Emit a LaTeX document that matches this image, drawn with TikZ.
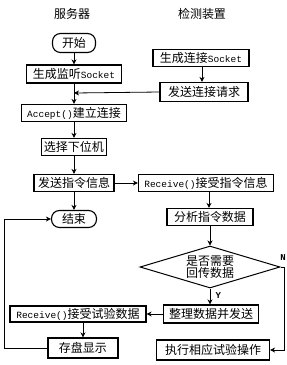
\documentclass[tikz,border=0pt]{standalone}
\usepackage{fontspec}
\setmainfont{Noto Sans CJK SC}
\setmonofont{Liberation Mono}
\usetikzlibrary{arrows.meta,shapes.geometric}
\newcommand{\lat}[1]{{\fontsize{9.5}{11}\ttfamily #1}}
\tikzset{
  box/.style={draw, line width=1.1pt, fill=white, inner sep=0pt, font=\fontsize{12}{14}\selectfont},
  term/.style={box, rounded corners=8pt},
  dec/.style={draw, line width=1pt, diamond, aspect=3.3, inner sep=0pt, minimum width=140pt, minimum height=42pt, align=center, font=\fontsize{12}{14}\selectfont},
  ttl/.style={font=\fontsize{12}{14}\selectfont},
  lbl/.style={font=\fontsize{9}{10}\ttfamily\bfseries},
  arr/.style={line width=0.8pt, -{Stealth[length=5pt,width=5pt,inset=1.5pt]}},
  ln/.style={line width=0.8pt}
}
\begin{document}
\begin{tikzpicture}[x=1pt,y=-1pt]
\useasboundingbox (0,0) rectangle (287,365);
% titles
\node[ttl] (t1) at (72,14) {服务器};
\node[ttl] (t2) at (202,14) {检测装置};
% left column
\node[term, minimum width=43pt, minimum height=19pt] (start) at (74,43) {开始};
\node[box, minimum width=95pt, minimum height=18pt] (s1) at (74,74) {生成监听\lat{Socket}};
\node[box, minimum width=105pt, minimum height=17pt] (acc) at (74,113) {\lat{Accept()}建立连接};
\node[box, minimum width=65pt, minimum height=17pt] (sel) at (74,147) {选择下位机};
\node[box, minimum width=80pt, minimum height=17pt] (snd) at (74,183) {发送指令信息};
\node[term, minimum width=45pt, minimum height=17pt] (end) at (74,219) {结束};
\node[box, minimum width=136pt, minimum height=16pt] (rt) at (78,314) {\lat{Receive()}接受试验数据};
\node[box, minimum width=70pt, minimum height=20pt] (sv) at (83,348) {存盘显示};
% right column
\node[box, minimum width=96pt, minimum height=17pt] (c1) at (201,58) {生成连接\lat{Socket}};
\node[box, minimum width=88pt, minimum height=19pt] (c2) at (204,92) {发送连接请求};
\node[box, minimum width=135pt, minimum height=17pt] (r1) at (206,183) {\lat{Receive()}接受指令信息};
\node[box, minimum width=86pt, minimum height=17pt] (an) at (210,217) {分析指令数据};
\node[dec] (dia) at (210,267) {是否需要\\[-2pt]回传数据};
\node[box, minimum width=95pt, minimum height=18pt] (org) at (211,314) {整理数据并发送};
\node[box, minimum width=113pt, minimum height=20pt] (ex) at (213,350) {执行相应试验操作};
% helper coordinates
\coordinate (j1) at (74,93);
\coordinate (nr) at (284,267);
\coordinate (nb) at (284,350);
\coordinate (lb) at (4,348);
\coordinate (lt) at (4,219);
% connectors
\draw[arr] (start) -- (s1);
\draw[arr] (s1) -- (acc);
\draw[arr] (c1.south -| 202,0) -- (c2.north -| 202,0);
\draw[arr] (c2.west) -- (j1);
\draw[arr] (acc) -- (sel);
\draw[arr] (sel) -- (snd);
\draw[arr] (snd) -- (end);
\draw[arr] (snd.east) -- (r1.west |- snd.east);
\draw[arr] (r1.south -| 209,0) -- (an.north -| 209,0);
\draw[arr] (an.south -| 210,0) -- (dia.north);
\draw[arr] (dia.south) -- (org.north -| dia.south) node[lbl, pos=0.45, right=2pt] {Y};
\draw[ln] (dia.east) -- (nr) node[lbl, pos=0.75, above=3pt] {N};
\draw[arr] (nr) -- (nb) -- (ex.east);
\draw[arr] (org.west) -- (rt.east);
\draw[arr] (rt.south -| sv.north) -- (sv.north);
\draw[arr] (sv.west) -- (lb) -- (lt) -- (end.west);
\end{tikzpicture}
\end{document}
